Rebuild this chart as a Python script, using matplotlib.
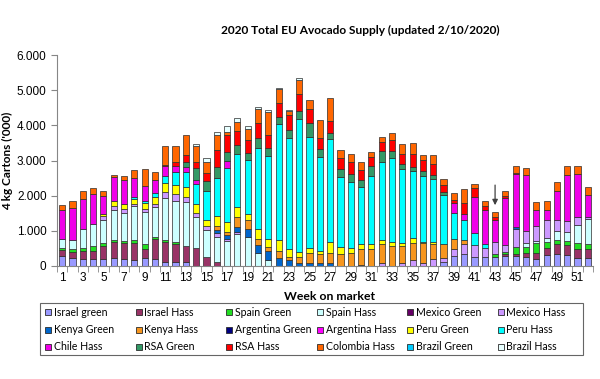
import matplotlib
matplotlib.use('Agg')
import matplotlib.pyplot as plt
from matplotlib.patches import Rectangle
from matplotlib.ticker import FuncFormatter, MultipleLocator
import numpy as np

weeks = list(range(1, 53))

# values in 4 kg cartons ('000), one list per origin, week 1..52
israel_green = [280, 215, 190, 190, 190, 215, 190, 170, 215, 190, 120, 120,
                120, 0, 0, 0, 0, 0, 0, 0, 0, 0, 0, 0,
                0, 0, 0, 0, 0, 0, 0, 0, 0, 0, 0, 0,
                0, 120, 280, 340, 245, 245, 245, 280, 280, 245, 190, 310, 340, 310, 215, 215]
israel_hass = [170, 190, 245, 245, 375, 470, 470, 470, 280, 565, 565, 500,
               440, 525, 245, 120, 0, 0, 0, 0, 0, 0, 0, 0,
               0, 0, 0, 0, 0, 0, 0, 0, 0, 0, 0, 0,
               0, 0, 0, 0, 0, 0, 0, 50, 75, 130, 190, 190, 280, 280, 280, 280]
spain_green = [60, 65, 65, 130, 75, 50, 50, 110, 120, 75, 65, 65,
               0, 0, 0, 0, 0, 0, 0, 0, 0, 0, 0, 0,
               0, 0, 0, 0, 0, 0, 0, 0, 0, 0, 0, 0,
               0, 0, 0, 0, 0, 0, 95, 65, 190, 170, 280, 190, 130, 120, 160, 140]
spain_hass = [270, 280, 565, 640, 660, 845, 800, 965, 910, 845, 1185, 1175,
              1250, 865, 790, 705, 725, 920, 825, 360, 170, 0, 0, 0,
              0, 0, 0, 0, 0, 0, 0, 0, 0, 0, 0, 0,
              0, 0, 0, 0, 0, 0, 0, 0, 0, 95, 55, 120, 245, 255, 525, 705]
mexico_green = [0] * 52
mexico_hass = [0, 0, 0, 0, 110, 140, 120, 50, 95, 95, 160, 190,
               160, 110, 110, 110, 50, 50, 0, 0, 0, 0, 0, 0,
               0, 0, 0, 0, 0, 0, 0, 75, 0, 95, 170, 95,
               190, 95, 215, 280, 350, 280, 350, 215, 515, 355, 415, 505, 320, 310, 225, 65]
kenya_green = [0, 0, 0, 0, 0, 0, 0, 0, 0, 0, 0, 0,
               0, 0, 0, 75, 110, 140, 235, 235, 265, 215, 170, 95,
               95, 95, 95, 0, 0, 30, 0, 0, 0, 0, 0, 0,
               0, 0, 0, 0, 0, 0, 0, 0, 45, 0, 0, 0, 0, 0, 0, 0]
kenya_hass = [0, 0, 0, 0, 0, 0, 0, 0, 0, 0, 0, 0,
              0, 0, 0, 140, 75, 280, 235, 160, 110, 215, 75, 170,
              265, 235, 280, 330, 360, 440, 470, 545, 565, 470, 490, 545,
              430, 405, 280, 110, 0, 0, 0, 0, 0, 0, 0, 0, 0, 0, 0, 0]
argentina_green = [0] * 52
argentina_hass = [0] * 52
peru_green = [0, 0, 0, 0, 75, 120, 140, 140, 160, 205, 255, 265,
              265, 265, 150, 280, 300, 300, 190, 310, 235, 320, 225, 140,
              140, 105, 310, 215, 140, 150, 150, 130, 120, 75, 150, 50,
              65, 0, 0, 0, 0, 0, 0, 0, 0, 0, 0, 0, 0, 0, 0, 0]
peru_hass = [0, 0, 0, 0, 0, 0, 0, 65, 75, 95, 215, 350,
             450, 565, 845, 1080, 1530, 1500, 1520, 2280, 2350, 3290, 3175, 3785,
             3175, 2670, 2940, 1975, 1880, 1635, 1945, 2215, 2380, 2115, 1900, 1880,
             1785, 1410, 725, 585, 330, 95, 0, 0, 0, 0, 0, 0, 0, 0, 0, 0]
chile_hass = [820, 900, 845, 845, 505, 705, 675, 525, 425, 375, 280, 190,
              130, 110, 0, 0, 190, 0, 0, 0, 0, 0, 0, 0,
              0, 0, 0, 0, 0, 0, 0, 0, 0, 0, 0, 0,
              0, 0, 280, 150, 1035, 975, 630, 1315, 1520, 1595, 470, 280, 810, 1315, 1200, 620]
rsa_green = [0, 0, 0, 0, 0, 0, 0, 0, 0, 0, 0, 0,
             150, 340, 280, 300, 255, 245, 215, 300, 235, 190, 235, 205,
             395, 235, 160, 235, 235, 190, 280, 300, 205, 140, 110, 140,
             120, 65, 0, 0, 0, 0, 0, 0, 0, 0, 0, 0, 0, 0, 0, 0]
rsa_hass = [0, 0, 0, 0, 0, 0, 0, 0, 0, 0, 30, 95,
            190, 190, 235, 500, 500, 415, 375, 420, 360, 395, 405, 490,
            405, 310, 330, 310, 330, 280, 255, 265, 300, 300, 360, 300,
            300, 215, 95, 320, 265, 120, 75, 65, 30, 0, 0, 0, 0, 0, 0, 0]
colombia_hass = [130, 205, 215, 170, 130, 50, 120, 225, 490, 215, 535, 470,
                 565, 440, 300, 405, 65, 245, 310, 405, 660, 415, 110, 405,
                 255, 490, 660, 225, 235, 245, 140, 130, 215, 265, 330, 150,
                 265, 160, 215, 405, 95, 140, 140, 140, 180, 190, 215, 245, 255, 255, 235, 225]
brazil_green = [0] * 52
brazil_hass = [0, 0, 0, 0, 0, 0, 0, 0, 0, 0, 0, 0,
               0, 50, 120, 95, 170, 110, 85, 40, 50, 20, 55, 65,
               0, 0, 0, 0, 0, 0, 0, 0, 0, 0, 0, 0,
               0, 0, 0, 0, 0, 0, 0, 0, 0, 0, 0, 0, 0, 0, 0, 0]

series = [
    ('Israel green', israel_green, '#9999ff'),
    ('Israel Hass', israel_hass, '#993366'),
    ('Spain Green', spain_green, '#22dd22'),
    ('Spain Hass', spain_hass, '#ccffff'),
    ('Mexico Green', mexico_green, '#660066'),
    ('Mexico Hass', mexico_hass, '#cc99ff'),
    ('Kenya Green', kenya_green, '#0066cc'),
    ('Kenya Hass', kenya_hass, '#f7961e'),
    ('Argentina Green', argentina_green, '#000080'),
    ('Argentina Hass', argentina_hass, '#ff00ff'),
    ('Peru Green', peru_green, '#ffff00'),
    ('Peru Hass', peru_hass, '#00ffff'),
    ('Chile Hass', chile_hass, '#f000e8'),
    ('RSA Green', rsa_green, '#339966'),
    ('RSA Hass', rsa_hass, '#ff0000'),
    ('Colombia Hass', colombia_hass, '#ff6600'),
    ('Brazil Green', brazil_green, '#00ccff'),
    ('Brazil Hass', brazil_hass, '#e8ffff'),
]

TEXT_FONT = ['Lato', 'DejaVu Sans']
TICK_FONT = ['Liberation Sans', 'DejaVu Sans']
W, H = 600, 379

fig = plt.figure(figsize=(W / 100, H / 100), dpi=100)
ax = fig.add_axes([57 / W, 1 - 266 / H, 536 / W, 211 / H])

x = np.array(weeks)
bottom = np.zeros(len(weeks))
for name, vals, color in series:
    vals = np.array(vals, dtype=float)
    mask = vals > 0
    ax.bar(x[mask], vals[mask], bottom=bottom[mask], width=0.6, color=color,
           edgecolor='#2b2b2b', linewidth=0.5, zorder=2)
    bottom += vals

ax.set_xlim(0.5, 52.5)
ax.set_ylim(0, 6000)
ax.yaxis.set_major_locator(MultipleLocator(1000))
ax.yaxis.set_major_formatter(FuncFormatter(lambda v, p: f'{int(v):,}'.replace(',', '.')))
ax.set_xticks(weeks[::2])
ax.set_xticks(np.arange(0.5, 53, 1), minor=True)
ax.tick_params(axis='x', which='major', length=0, pad=4)
ax.tick_params(axis='x', which='minor', length=4, color='#868686', direction='out')
ax.tick_params(axis='y', length=4, color='#868686', direction='out')
for lab in ax.get_xticklabels() + ax.get_yticklabels():
    lab.set_family(TICK_FONT)
    lab.set_fontsize(8.5)

for s in ['top', 'right']:
    ax.spines[s].set_visible(False)
for s in ['left', 'bottom']:
    ax.spines[s].set_color('#868686')
    ax.spines[s].set_linewidth(0.8)

ax.set_ylabel("4 kg Cartons ('000)", family=TEXT_FONT, fontsize=8.5, fontweight='bold')
ax.yaxis.set_label_coords(-44 / 536, 0.5)
fig.text(330 / W, 1 - 296 / H, 'Week on market', family=TEXT_FONT, fontsize=8.8,
         fontweight='bold', ha='center', va='center')
fig.text(360 / W, 1 - 30 / H, '2020 Total EU Avocado Supply (updated 2/10/2020)',
         family=TEXT_FONT, fontsize=8.6, fontweight='bold', ha='center', va='center')

# arrow marking the latest week
ax.annotate('', xy=(43, 1650), xytext=(43, 2380),
            arrowprops=dict(arrowstyle='-|>', color='#404040', lw=0.9, mutation_scale=8))

# legend laid out like the spreadsheet one: 6 equal columns, filled row by row
fig.add_artist(Rectangle((40 / W, 1 - 355 / H), 543 / W, 52 / H, transform=fig.transFigure,
                         facecolor='white', edgecolor='#666666', linewidth=0.8))
for i, (name, vals, color) in enumerate(series):
    r, c = divmod(i, 6)
    px = 45 + c * 90.5
    py = 312 + r * 17.5
    fig.add_artist(Rectangle((px / W, 1 - (py + 3) / H), 6 / W, 6 / H, transform=fig.transFigure,
                             facecolor=color, edgecolor='#2b2b2b', linewidth=0.6))
    fig.text((px + 9) / W, 1 - py / H, name, family=TEXT_FONT, fontsize=7.6,
             ha='left', va='center')

fig.savefig('out.png', dpi=100)
